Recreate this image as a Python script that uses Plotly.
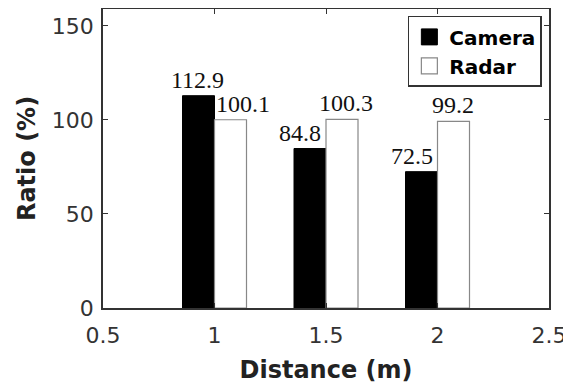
import plotly.graph_objects as go

distance = [1.0, 1.5, 2.0]
camera = [112.9, 84.8, 72.5]
radar = [100.1, 100.3, 99.2]
x_ticks = [0.5, 1, 1.5, 2, 2.5]
x_tick_labels = ["0.5", "1", "1.5", "2", "2.5"]
y_ticks = [0, 50, 100, 150]

# pixel nudges of the value labels (as placed in the original figure)
camera_label_shift = [-17, -26, -26]
radar_label_shift = [28, 20, 15]

label_font = dict(family="Liberation Serif", size=24, color="#111")
tick_font = dict(family="DejaVu Sans", size=22, color="#333")
title_font = dict(family="DejaVu Sans", size=24, color="#222", weight="bold")

fig = go.Figure()
fig.add_trace(go.Bar(
    x=distance, y=camera, name="Camera", showlegend=False,
    marker=dict(color="black", line=dict(color="black", width=1)),
))
fig.add_trace(go.Bar(
    x=distance, y=radar, name="Radar", showlegend=False,
    marker=dict(color="white", line=dict(color="#888", width=1.2)),
))
# legend entries with large square swatches
fig.add_trace(go.Scatter(
    x=[None], y=[None], mode="markers", name="Camera",
    marker=dict(symbol="square", size=22, color="black", line=dict(color="black", width=1)),
))
fig.add_trace(go.Scatter(
    x=[None], y=[None], mode="markers", name="Radar",
    marker=dict(symbol="square", size=22, color="white", line=dict(color="#888", width=1.2)),
))

for xv, yv, dx in zip(distance, camera, camera_label_shift):
    fig.add_annotation(x=xv, y=yv, xref="x", yref="y", text=f"{yv:.1f}",
                       showarrow=False, xanchor="center", yanchor="bottom",
                       xshift=dx, yshift=1, font=label_font)
for xv, yv, dx in zip(distance, radar, radar_label_shift):
    fig.add_annotation(x=xv, y=yv, xref="x", yref="y", text=f"{yv:.1f}",
                       showarrow=False, xanchor="center", yanchor="bottom",
                       xshift=dx, yshift=1, font=label_font)

fig.update_layout(
    width=563, height=384,
    margin=dict(l=95, r=22, t=1, b=84, autoexpand=False),
    paper_bgcolor="white", plot_bgcolor="white",
    barmode="group", bargap=0.426, bargroupgap=0,
    showlegend=True,
    legend=dict(
        x=0.984, y=0.977, xanchor="right", yanchor="top",
        bordercolor="#333", borderwidth=1.5, bgcolor="white",
        font=dict(family="DejaVu Sans", size=20, color="black", weight="bold"),
        tracegroupgap=0, itemwidth=30, itemsizing="trace",
    ),
    font=dict(family="DejaVu Sans", color="#333"),
)
fig.update_xaxes(
    range=[0.5, 2.5], tickvals=x_ticks, ticktext=x_tick_labels,
    ticks="inside", ticklen=5, tickcolor="#333", ticklabelstandoff=7,
    showline=True, linecolor="#333", linewidth=1.5, mirror="ticks",
    showgrid=False, zeroline=False, automargin=False,
    tickfont=tick_font,
    title=dict(text="Distance (m)", font=title_font, standoff=14),
)
fig.update_yaxes(
    range=[0, 159], tickvals=y_ticks,
    ticks="inside", ticklen=5, tickcolor="#333", ticklabelstandoff=3,
    showline=True, linecolor="#333", linewidth=1.5, mirror="ticks",
    showgrid=False, zeroline=False, automargin=False,
    tickfont=tick_font,
    title=dict(text="Ratio (%)", font=title_font, standoff=9),
)

fig.write_html("out.html")
